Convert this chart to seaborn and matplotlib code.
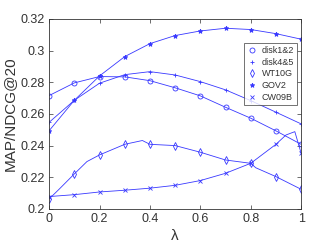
import numpy as np
import pandas as pd
import matplotlib
matplotlib.use('Agg')
import matplotlib.pyplot as plt
import seaborn as sns
from matplotlib.lines import Line2D

# --- Data ---
LAMBDA = [0.0, 0.1, 0.2, 0.3, 0.4, 0.5, 0.6, 0.7, 0.8, 0.9, 1.0]

DISK12 = [0.2716, 0.2796, 0.2836, 0.2834, 0.2810, 0.2765, 0.2714, 0.2642, 0.2573, 0.2493, 0.2408]
DISK45 = [0.2547, 0.2686, 0.2794, 0.2848, 0.2867, 0.2846, 0.2804, 0.2752, 0.2684, 0.2611, 0.2537]
WT10G = [0.2063, 0.2221, 0.2341, 0.2408, 0.2408, 0.2400, 0.2358, 0.2309, 0.2288, 0.2204, 0.2124]
GOV2 = [0.2494, 0.2686, 0.2840, 0.2962, 0.3044, 0.3095, 0.3124, 0.3141, 0.3133, 0.3107, 0.3072]
CW09B = [0.2078, 0.2090, 0.2107, 0.2118, 0.2131, 0.2149, 0.2179, 0.2225, 0.2288, 0.2408, 0.2352]

# a few extra points on the drawn curves (between markers)
WT10G_EXTRA_X = [0.04, 0.15, 0.37, 0.82]
WT10G_EXTRA_Y = [0.2125, 0.2299, 0.2432, 0.2260]
CW09B_EXTRA_X = [0.94, 0.975]
CW09B_EXTRA_Y = [0.2467, 0.2488]

LABELS = ['disk1&2', 'disk4&5', 'WT10G', 'GOV2', 'CW09B']
MARKERS = ['o', '+', 'd', '*', 'x']
SERIES = [DISK12, DISK45, WT10G, GOV2, CW09B]
EXTRAS = {'WT10G': (WT10G_EXTRA_X, WT10G_EXTRA_Y), 'CW09B': (CW09B_EXTRA_X, CW09B_EXTRA_Y)}

BLUE = '#3838ff'
DARK = '#333333'

sns.set_style('ticks')
plt.rcParams['font.family'] = ['Liberation Sans', 'DejaVu Sans']

fig = plt.figure(figsize=(3.32, 2.49), dpi=100)
ax = fig.add_axes([0.148, 0.161, 0.759, 0.763])

handles = []
for label, marker, ys in zip(LABELS, MARKERS, SERIES):
    # curve
    xs_line = list(LAMBDA)
    ys_line = list(ys)
    if label in EXTRAS:
        xs_line += EXTRAS[label][0]
        ys_line += EXTRAS[label][1]
    line_df = pd.DataFrame({'x': xs_line, 'y': ys_line}).sort_values('x')
    sns.lineplot(data=line_df, x='x', y='y', ax=ax, color=BLUE, lw=0.6,
                 sort=True, estimator=None, legend=False)
    # markers
    hollow = marker in ('o', 'd')
    ms = 3.6 if hollow else 3.4
    mk_df = pd.DataFrame({'x': LAMBDA, 'y': ys})
    sns.lineplot(data=mk_df, x='x', y='y', ax=ax, linestyle='none', marker=marker,
                 markersize=ms, markerfacecolor='none' if hollow else BLUE,
                 markeredgecolor=BLUE, markeredgewidth=0.6, color=BLUE,
                 estimator=None, legend=False)
    handles.append(Line2D([], [], linestyle='none', marker=marker, markersize=ms,
                          markerfacecolor='none' if hollow else BLUE,
                          markeredgecolor=BLUE, markeredgewidth=0.6, label=label))

ax.set_xlim(0, 1)
ax.set_ylim(0.2, 0.32)
ax.set_xticks([0, 0.2, 0.4, 0.6, 0.8, 1])
ax.set_xticklabels(['0', '0.2', '0.4', '0.6', '0.8', '1'])
ax.set_yticks([0.2, 0.22, 0.24, 0.26, 0.28, 0.3, 0.32])
ax.set_yticklabels(['0.2', '0.22', '0.24', '0.26', '0.28', '0.3', '0.32'])

for side in ['top', 'right', 'left', 'bottom']:
    ax.spines[side].set_visible(True)
    ax.spines[side].set_linewidth(0.6)
    ax.spines[side].set_color(DARK)
ax.tick_params(direction='in', length=3, width=0.5, top=True, right=True,
               labelsize=9, colors=DARK, pad=3)

ax.set_xlabel('λ', fontsize=11, labelpad=3, color=DARK)
ax.set_ylabel('MAP/NDCG@20', fontsize=11, labelpad=3, color=DARK)

leg = ax.legend(handles=handles, loc='upper right', bbox_to_anchor=(0.984, 0.874),
                borderaxespad=0, fontsize=6.5, frameon=True, fancybox=False,
                edgecolor=DARK, handlelength=1.0, handletextpad=0.6, borderpad=0.35,
                labelspacing=0.3)
leg.get_frame().set_linewidth(0.6)
for t in leg.get_texts():
    t.set_color(DARK)

fig.savefig('out.png', dpi=100)
